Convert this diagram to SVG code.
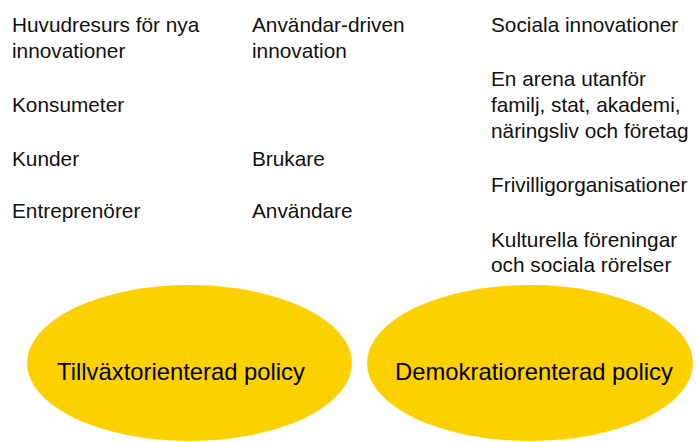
<svg xmlns="http://www.w3.org/2000/svg" width="696" height="442" viewBox="0 0 696 442">
<style>
.t{font-family:"Liberation Sans",Arial,sans-serif;font-size:20.8px;fill:#111}
.e{fill:#FDD100}
.c{font-family:"Liberation Sans",Arial,sans-serif;font-size:23.8px;fill:#000;text-anchor:middle}
</style>
<rect width="696" height="442" fill="#fff"/>
<g id="col1">
<text class="t" x="12" y="32">Huvudresurs för nya</text>
<text class="t" x="12" y="58">innovationer</text>
<text class="t" x="12" y="112">Konsumeter</text>
<text class="t" x="12" y="166">Kunder</text>
<text class="t" x="12" y="218">Entreprenörer</text>
</g>
<g id="col2">
<text class="t" x="252" y="32">Användar-driven</text>
<text class="t" x="252" y="58">innovation</text>
<text class="t" x="252" y="166">Brukare</text>
<text class="t" x="252" y="218">Användare</text>
</g>
<g id="col3">
<text class="t" x="491" y="32">Sociala innovationer</text>
<text class="t" x="491" y="86">En arena utanför</text>
<text class="t" x="491" y="112">familj, stat, akademi,</text>
<text class="t" x="491" y="138">näringsliv och företag</text>
<text class="t" x="491" y="192">Frivilligorganisationer</text>
<text class="t" x="491" y="247">Kulturella föreningar</text>
<text class="t" x="491" y="272">och sociala rörelser</text>
</g>
<g id="growth">
<ellipse class="e" cx="189.5" cy="363" rx="162.5" ry="78"/>
<text class="c" x="181" y="380">Tillväxtorienterad policy</text>
</g>
<g id="democracy">
<ellipse class="e" cx="530" cy="363" rx="163" ry="78"/>
<text class="c" x="534" y="380">Demokratiorenterad policy</text>
</g>
<g id="connectors"/>
</svg>
